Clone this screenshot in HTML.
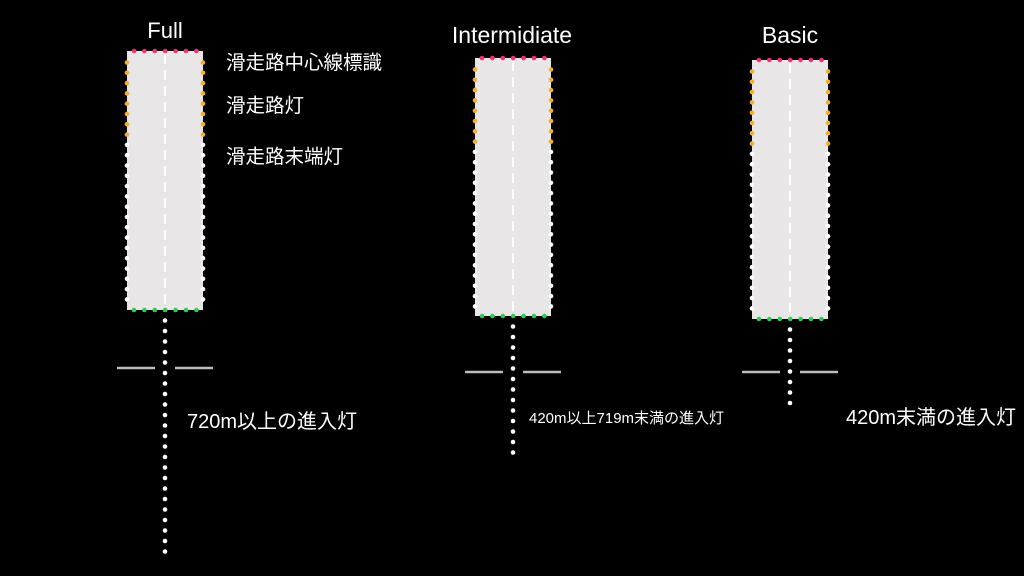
<!DOCTYPE html>
<html><head><meta charset="utf-8"><style>
html,body{margin:0;padding:0;background:#000;width:1024px;height:576px;overflow:hidden}
svg{display:block}
text{fill:#fff;font-family:"Liberation Sans","Noto Sans CJK JP",sans-serif}
</style></head><body>
<svg id="s" width="1024" height="576" xmlns="http://www.w3.org/2000/svg">
<rect width="1024" height="576" fill="#000"/>
<text x="165" y="38" font-size="22" text-anchor="middle">Full</text>
<text x="512" y="43" font-size="23" text-anchor="middle">Intermidiate</text>
<text x="790" y="43" font-size="23" text-anchor="middle">Basic</text>
<text x="226" y="69" font-size="19.5">滑走路中心線標識</text>
<text x="226" y="112" font-size="19.5">滑走路灯</text>
<text x="226" y="163" font-size="19.5">滑走路末端灯</text>
<text x="187" y="428" font-size="20">720m以上の進入灯</text>
<text x="529" y="423" font-size="15">420m以上719m末満の進入灯</text>
<text x="846" y="424" font-size="20">420m末満の進入灯</text>
</svg>
<script>
const s=document.getElementById('s');const NS='http://www.w3.org/2000/svg';
function el(t,a){const e=document.createElementNS(NS,t);for(const k in a)e.setAttribute(k,a[k]);s.appendChild(e);return e;}
function dot(x,y,c){el('circle',{cx:x,cy:y,r:2.3,fill:c});}
function rw(cx,top,bot,cross,appEnd){
 const l=cx-38,r=cx+38;
 el('rect',{x:l,y:top,width:76,height:bot-top,fill:'#e8e6e7'});
 el('line',{x1:cx,y1:top+3,x2:cx,y2:bot,stroke:'#fff','stroke-width':2,'stroke-dasharray':'10 6'});
 for(let i=0;i<7;i++){const x=l+7+i*10.4;dot(x,top,'#f0307a');dot(x,bot,'#2ecc55');}
 for(let y=top+11.5,i=0;y<bot-4;y+=10.3,i++){const c=i<8?'#f2b02e':'#fff';dot(l,y,c);dot(r,y,c);}
 el('line',{x1:cx-48,y1:cross,x2:cx-10,y2:cross,stroke:'#bbb','stroke-width':2.5});
 el('line',{x1:cx+10,y1:cross,x2:cx+48,y2:cross,stroke:'#bbb','stroke-width':2.5});
 for(let y=bot+10.5;y<=appEnd+1;y+=10.5)dot(cx,y,'#fff');
}
rw(165,51,310,368,552);
rw(513,58,316,372,461);
rw(790,60,319,372,404);
</script>
</body></html>
